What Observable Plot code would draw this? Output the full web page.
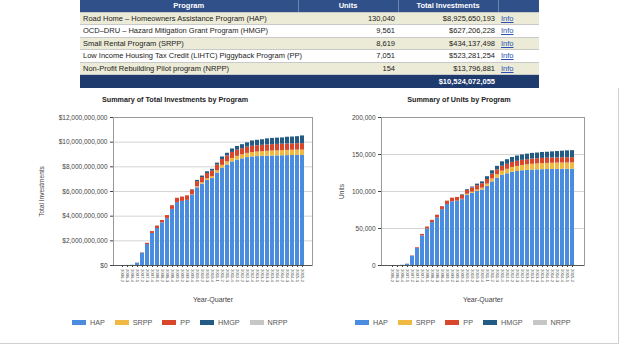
<!DOCTYPE html>
<html><head><meta charset="utf-8">
<script src="https://cdn.jsdelivr.net/npm/d3@7"></script>
<script src="https://cdn.jsdelivr.net/npm/@observablehq/plot@0.6"></script>
<style>
body{margin:0;background:#fff;font-family:"Liberation Sans",Arial,sans-serif;}
#page{position:relative;width:620px;height:345px;overflow:hidden;background:#fff;}
#tbl{position:absolute;left:80px;top:0;width:459px;border-collapse:collapse;font-size:7.5px;color:#222;table-layout:fixed;}
#tbl td,#tbl th{height:12.5px;padding:0 3px;white-space:nowrap;border-bottom:1px solid #c9c9c9;line-height:11px;box-sizing:border-box;}
#tbl th{background:#2f5089;color:#fff;font-weight:bold;text-align:center;border-right:1px solid #6d86b0;height:12px;}
#tbl tr.odd td{background:#ecebd7;}
#tbl tr.even td{background:#fff;}
#tbl td.num{text-align:right;}
#tbl td.info a{color:#2b4fb5;text-decoration:underline;}
#tbl tr.total td{background:#1f3b6e;color:#fff;font-weight:bold;border-bottom:1px solid #1f3b6e;height:13px;}
.title{position:absolute;font-size:7.2px;font-weight:bold;color:#222;transform:translateX(-50%);white-space:nowrap;}
.chart{position:absolute;}
.legend{position:absolute;font-size:7.2px;color:#555;display:flex;align-items:center;}
.legend .it{display:flex;align-items:center;margin-right:10px;}
.legend .sw{width:14px;height:5px;margin-right:4px;}
#edge{position:absolute;left:0;top:88px;width:618px;height:255px;border-right:1px solid #d0d0d0;border-bottom:1px solid #d0d0d0;}
</style></head><body><div id="page"><div id="edge"></div></div>
<script>
// ---- table data ----
const tablePrograms = [
  "Road Home – Homeowners Assistance Program (HAP)",
  "OCD–DRU – Hazard Mitigation Grant Program (HMGP)",
  "Small Rental Program (SRPP)",
  "Low Income Housing Tax Credit (LIHTC) Piggyback Program (PP)",
  "Non-Profit Rebuilding Pilot program (NRPP)"
];
const tableUnits = [130040, 9561, 8619, 7051, 154];
const tableInvest = [8925650193, 627206228, 434137498, 523281254, 13796881];
const totalInvest = 10524072055;

// ---- chart data ----
const quarters = ["2006-2","2006-3","2006-4",
  "2007-1","2007-2","2007-3","2007-4","2008-1","2008-2","2008-3","2008-4",
  "2009-1","2009-2","2009-3","2009-4","2010-1","2010-2","2010-3","2010-4",
  "2011-1","2011-2","2011-3","2011-4","2012-1","2012-2","2012-3","2012-4",
  "2013-1","2013-2","2013-3","2013-4","2014-1","2014-2","2014-3","2014-4",
  "2015-1","2015-2"];
const programs = ["HAP","SRPP","PP","HMGP","NRPP"];
const programColors = ["#4a8de0","#f0b942","#d8472c","#245b84","#c6c6c6"];

// investments, billions of dollars
const invHAP  = [0,0.005,0.02,0.19,1.0,1.7,2.6,3.0,3.45,3.8,4.55,5.1,5.2,5.28,5.7,6.3,6.6,6.9,7.05,7.5,7.9,8.15,8.4,8.55,8.65,8.75,8.8,8.83,8.85,8.87,8.88,8.89,8.9,8.91,8.92,8.925,8.926];
const invSRPP = [0,0,0,0,0,0,0,0,0,0,0,0,0,0,0.02,0.08,0.1,0.12,0.15,0.18,0.22,0.25,0.28,0.3,0.32,0.34,0.36,0.37,0.38,0.39,0.4,0.41,0.415,0.42,0.425,0.43,0.434];
const invPP   = [0,0,0,0.01,0.03,0.1,0.15,0.2,0.2,0.25,0.3,0.35,0.35,0.37,0.4,0.42,0.43,0.44,0.45,0.46,0.47,0.48,0.49,0.5,0.5,0.505,0.51,0.51,0.515,0.515,0.52,0.52,0.52,0.52,0.52,0.52,0.523];
const invHMGP = [0,0,0,0,0,0,0,0,0,0,0,0,0,0,0.03,0.1,0.12,0.14,0.15,0.16,0.21,0.22,0.28,0.3,0.33,0.355,0.43,0.44,0.455,0.495,0.5,0.51,0.515,0.55,0.555,0.575,0.627];
const invNRPP = [0,0,0,0,0,0,0,0,0,0,0,0,0,0,0,0,0,0,0,0.002,0.004,0.005,0.006,0.007,0.008,0.009,0.01,0.011,0.011,0.012,0.012,0.013,0.013,0.013,0.0135,0.0137,0.0138];

// units, thousands
const unHAP  = [0,0,0.3,1.8,12.5,23,40,49.5,58,64.5,75.5,82.5,86,87,89,95,97.5,100,102,107,113,118,122,124,126,127,128,128.5,129,129.3,129.5,129.7,129.8,129.9,130,130,130.04];
const unSRPP = [0,0,0,0,0,0,0,0,0,0,0,0,0,0,0.5,1.2,1.6,2,2.5,3,4,4.8,5.5,6,6.5,6.9,7.2,7.5,7.8,8,8.2,8.3,8.4,8.5,8.55,8.6,8.619];
const unPP   = [0,0,0,0.1,0.5,1,2,2.5,3,3.5,4,4.5,5,5,5.2,5.5,5.7,5.9,6,6.2,6.4,6.5,6.6,6.7,6.8,6.85,6.9,6.95,7,7,7.02,7.03,7.04,7.05,7.05,7.05,7.051];
const unHMGP = [0,0,0,0,0,0,0,0,0,0,0,0,0,0,0.8,1,1.2,2.1,2.5,3.8,4.6,4.7,6.0,6.3,6.7,7.25,7.4,7.55,7.7,7.7,7.98,8,8.36,8.55,8.9,9.35,9.561];
const unNRPP = [0,0,0,0,0,0,0,0,0,0,0,0,0,0,0,0,0,0,0,0.02,0.04,0.05,0.06,0.07,0.08,0.09,0.1,0.11,0.12,0.12,0.13,0.13,0.14,0.14,0.15,0.15,0.154];

const invTicks = [0,2e9,4e9,6e9,8e9,10e9,12e9];
const unitTicks = [0,50000,100000,150000,200000];

// ---- build ----
const page = document.getElementById("page");
const fmt = d3.format(",");

// table
const tbl = document.createElement("table");
tbl.id = "tbl";
let html = '<colgroup><col style="width:218px"><col style="width:100px"><col style="width:100px"><col style="width:41px"></colgroup>';
html += '<tr><th>Program</th><th>Units</th><th>Total Investments</th><th style="border-right:none"></th></tr>';
tablePrograms.forEach((p, i) => {
  html += `<tr class="${i % 2 === 0 ? "odd" : "even"}"><td>${p}</td><td class="num">${fmt(tableUnits[i])}</td><td class="num">$${fmt(tableInvest[i])}</td><td class="info"><a>Info</a></td></tr>`;
});
html += `<tr class="total"><td></td><td></td><td class="num">$${fmt(totalInvest)}</td><td></td></tr>`;
tbl.innerHTML = html;
page.appendChild(tbl);

function rows(series, scale) {
  const out = [];
  quarters.forEach((q, i) => {
    series.forEach((s, j) => out.push({quarter: q, program: programs[j], value: s[i] * scale}));
  });
  return out;
}
const invRows = rows([invHAP, invSRPP, invPP, invHMGP, invNRPP], 1e9);
const unitRows = rows([unHAP, unSRPP, unPP, unHMGP, unNRPP], 1000);

function chart({data, width, marginLeft, marginRight, yDomain, yTicks, yFormat, yLabel, yLabelOffset}) {
  return Plot.plot({
    width, height: 200,
    marginTop: 7, marginBottom: 45, marginLeft, marginRight,
    style: {fontFamily: "Liberation Sans, Arial, sans-serif", fontSize: "6.5px", color: "#444", background: "transparent"},
    x: {type: "band", domain: quarters, padding: 0.18, label: null},
    y: {domain: yDomain, label: null},
    color: {domain: programs, range: programColors},
    marks: [
      Plot.gridY(yTicks, {stroke: "#d4d4d4", strokeOpacity: 1}),
      Plot.barY(data, {x: "quarter", y: "value", fill: "program"}),
      Plot.frame({stroke: "#9a9a9a"}),
      Plot.ruleY([yDomain[0]], {stroke: "#555", strokeWidth: 1.2}),
      Plot.axisY(yTicks, {tickFormat: yFormat, tickSize: 3, tickPadding: 3, fontSize: 6.5, label: yLabel, labelAnchor: "center", labelOffset: yLabelOffset, labelArrow: "none"}),
      Plot.axisX({tickRotate: 90, fontSize: 4.2, tickSize: 2, tickPadding: 1.5, label: null}),
      Plot.axisX([], {fontSize: 7, tickSize: 0, label: "Year-Quarter", labelAnchor: "center", labelOffset: 36, labelArrow: "none"})
    ]
  });
}

const left = chart({data: invRows, width: 320, marginLeft: 113, marginRight: 8, yDomain: [0, 12e9], yTicks: invTicks,
  yFormat: d => "$" + fmt(d), yLabel: "Total Investments", yLabelOffset: 74});
left.classList.add("chart");
left.style.left = "0px"; left.style.top = "110px";
page.appendChild(left);

const right = chart({data: unitRows, width: 260, marginLeft: 51, marginRight: 6, yDomain: [0, 200000], yTicks: unitTicks,
  yFormat: d => fmt(d), yLabel: "Units", yLabelOffset: 42});
right.classList.add("chart");
right.style.left = "330px"; right.style.top = "110px";
page.appendChild(right);

function title(text, cx) {
  const t = document.createElement("div");
  t.className = "title"; t.textContent = text;
  t.style.left = cx + "px"; t.style.top = "95px";
  page.appendChild(t);
}
title("Summary of Total Investments by Program", 175);
title("Summary of Units by Program", 459);

function legend(x) {
  const l = document.createElement("div");
  l.className = "legend";
  l.style.left = x + "px"; l.style.top = "318px";
  programs.forEach((p, i) => {
    const it = document.createElement("div"); it.className = "it";
    const sw = document.createElement("div"); sw.className = "sw"; sw.style.background = programColors[i];
    const tx = document.createElement("span"); tx.textContent = p;
    it.appendChild(sw); it.appendChild(tx); l.appendChild(it);
  });
  page.appendChild(l);
}
legend(72);
legend(355);
</script></body></html>
